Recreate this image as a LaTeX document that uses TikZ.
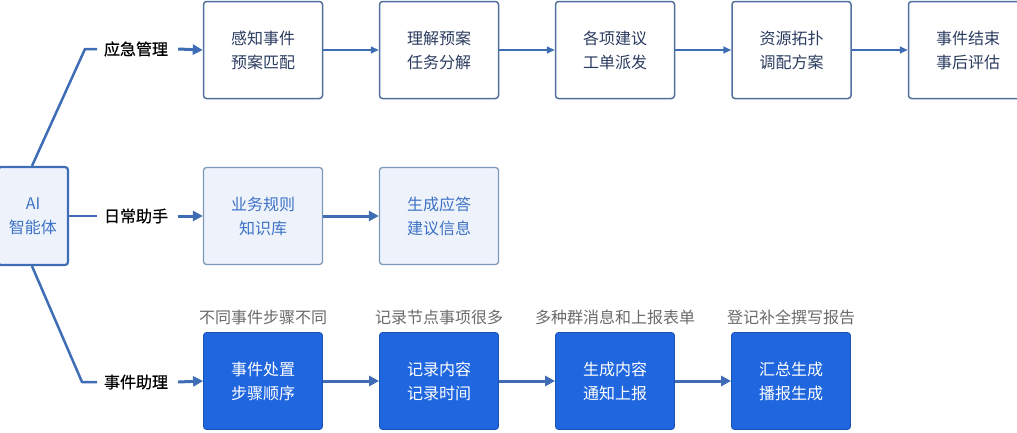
\documentclass[tikz,border=0pt]{standalone}
\usepackage{fontspec}
\setmainfont{Noto Sans CJK SC}
\newfontfamily\labelfont[FakeBold=0.6]{Noto Sans CJK SC}
\usetikzlibrary{arrows.meta}
\definecolor{linec}{HTML}{3E6DB5}
\definecolor{topborder}{HTML}{50709E}
\definecolor{toptext}{HTML}{2B3C60}
\definecolor{midfill}{HTML}{EEF3FB}
\definecolor{midborder}{HTML}{7E97BC}
\definecolor{midtext}{HTML}{3D72C6}
\definecolor{botfill}{HTML}{2066DF}
\definecolor{captext}{HTML}{6A6A6A}
\begin{document}
\begin{tikzpicture}[x=1pt,y=-1pt,
  boxbase/.style={rounded corners=3pt, minimum width=119pt, minimum height=97pt, align=center,
    font=\fontsize{16pt}{24pt}\selectfont, inner sep=0pt},
  topbox/.style={boxbase, draw=topborder, line width=1.5pt, fill=white, text=toptext},
  midbox/.style={boxbase, draw=midborder, line width=1.3pt, fill=midfill, text=midtext},
  botbox/.style={boxbase, draw=botfill!80!black, line width=0.8pt, fill=botfill, text=white},
  aibox/.style={boxbase, minimum width=70pt, minimum height=98pt, draw=linec, line width=2.2pt, fill=midfill, text=midtext},
  branch/.style={font=\labelfont\fontsize{16pt}{20pt}\selectfont, text=black, inner sep=0pt},
  caption/.style={font=\fontsize{16pt}{20pt}\selectfont, text=captext, inner sep=0pt},
  treeline/.style={draw=linec, line width=2.5pt, line join=round},
  thinarrow/.style={draw=linec, line width=1.6pt, -{Triangle[length=8pt,width=7pt]}},
  thickarrow/.style={draw=linec, line width=3pt, -{Triangle[length=10pt,width=10pt]}},
  labelarrow/.style={draw=linec, line width=3pt, -{Triangle[length=10pt,width=10pt]}}
]
\useasboundingbox (0,0) rectangle (1017,432);

% AI box
\node[aibox] (ai) at (33,216) {AI\\智能体};

% branch labels
\node[branch] (b1) at (136,49) {应急管理};
\node[branch] (b2) at (136,216) {日常助手};
\node[branch] (b3) at (136,382) {事件助理};

% tree lines
\coordinate (k1) at (85,49);
\coordinate (e1) at (97,49);
\coordinate (e2) at (97,216);
\coordinate (k3) at (82,382);
\coordinate (e3) at (97,382);
\draw[treeline] ([xshift=-1pt]ai.north) -- (k1) -- (e1);
\draw[treeline] (ai.east) -- (e2);
\draw[treeline] ([xshift=-1pt]ai.south) -- (k3) -- (e3);

% top row
\node[topbox] (t1) at (263,50) {感知事件\\预案匹配};
\node[topbox] (t2) at (439,50) {理解预案\\任务分解};
\node[topbox] (t3) at (615,50) {各项建议\\工单派发};
\node[topbox] (t4) at (791.5,50) {资源拓扑\\调配方案};
\node[topbox] (t5) at (968,50) {事件结束\\事后评估};

% middle row
\node[midbox] (m1) at (263,216) {业务规则\\知识库};
\node[midbox] (m2) at (439,216) {生成应答\\建议信息};

% bottom row
\node[caption] (c1) at (263,317) {不同事件步骤不同};
\node[caption] (c2) at (439,317) {记录节点事项很多};
\node[caption] (c3) at (615,317) {多种群消息和上报表单};
\node[caption] (c4) at (791,317) {登记补全撰写报告};
\node[botbox] (d1) at (263,381) {事件处置\\步骤顺序};
\node[botbox] (d2) at (439,381) {记录内容\\记录时间};
\node[botbox] (d3) at (615,381) {生成内容\\通知上报};
\node[botbox] (d4) at (791,381) {汇总生成\\播报生成};

% label arrows
\draw[labelarrow] ([xshift=10pt]b1.east) -- (t1.west);
\draw[labelarrow] ([xshift=10pt]b2.east) -- (m1.west);
\draw[labelarrow] ([xshift=10pt]b3.east) -- (d1.west);

% row arrows
\draw[thinarrow] (t1.east) -- (t2.west);
\draw[thinarrow] (t2.east) -- (t3.west);
\draw[thinarrow] (t3.east) -- (t4.west);
\draw[thinarrow] (t4.east) -- (t5.west);
\draw[thickarrow] (m1.east) -- (m2.west);
\draw[thickarrow] (d1.east) -- (d2.west);
\draw[thickarrow] (d2.east) -- (d3.west);
\draw[thickarrow] (d3.east) -- (d4.west);
\end{tikzpicture}
\end{document}
